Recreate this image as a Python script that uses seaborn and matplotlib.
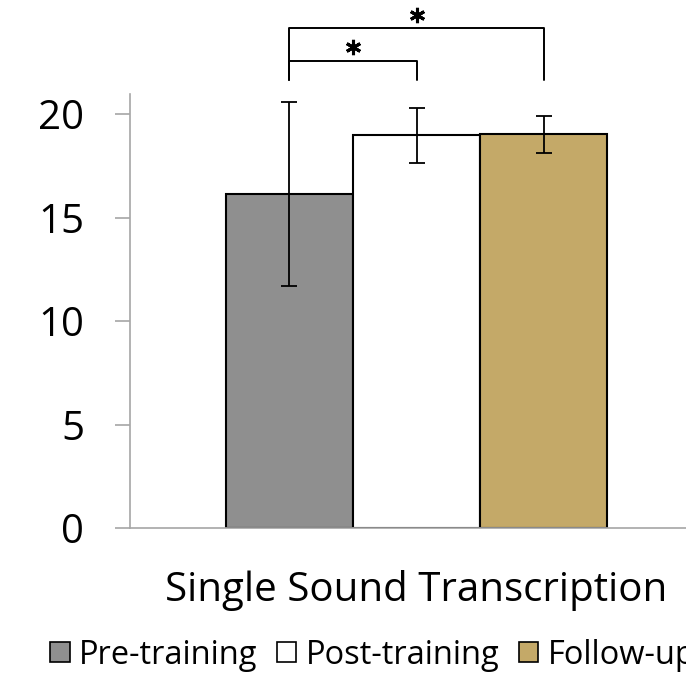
import pandas as pd
import numpy as np
import matplotlib
matplotlib.use("Agg")
import matplotlib.pyplot as plt
import seaborn as sns

task = "Single Sound Transcription"
conditions = ["Pre-training", "Post-training", "Follow-up"]
means = [16.15, 18.97, 19.02]
errors = [4.45, 1.33, 0.90]
colors = ["#8f8f8f", "#ffffff", "#c4a968"]

# significance brackets: (bar a, bar b, bracket height)
comparisons = [(0, 1, 22.56), (0, 2, 24.15)]
bracket_base = 21.64

df = pd.DataFrame({"task": task, "condition": conditions, "score": means})

sns.set_style("white")
plt.rcParams["font.family"] = ["Open Sans", "DejaVu Sans"]
plt.rcParams["text.color"] = "black"
plt.rcParams["xtick.color"] = "black"
plt.rcParams["ytick.color"] = "black"

fig = plt.figure(figsize=(6.86, 6.79), dpi=100)
ax = fig.add_axes([130 / 686, 151 / 679, 573 / 686, 434 / 679])

sns.barplot(data=df, x="task", y="score", hue="condition", hue_order=conditions,
            palette=colors, edgecolor="black", linewidth=1.5, errorbar=None,
            saturation=1, width=0.8, legend=False, ax=ax)

bars = ax.patches[:len(conditions)]
xs = [b.get_x() + b.get_width() / 2 for b in bars]
ax.errorbar(xs, means, yerr=errors, fmt="none", ecolor="black",
            elinewidth=1.3, capsize=5.8, capthick=1.3, zorder=5)

for a, b, h in comparisons:
    ax.plot([xs[a], xs[a], xs[b], xs[b]], [bracket_base, h, h, bracket_base],
            color="black", lw=1.4, clip_on=False)
    ax.plot([(xs[a] + xs[b]) / 2], [h + 0.66], marker=(6, 2, 0), ms=11,
            mew=2.2, color="black", clip_on=False)

ax.set_xlim(-0.6, 0.6)
ax.set_ylim(0, 20.97)
ax.set_yticks([0, 5, 10, 15, 20])
ax.set_xlabel("")
ax.set_ylabel("")
for side in ["top", "right"]:
    ax.spines[side].set_visible(False)
for side in ["left", "bottom"]:
    ax.spines[side].set_color("#a6a6a6")
    ax.spines[side].set_linewidth(1.2)
ax.tick_params(axis="y", direction="out", length=11, width=1.2, color="#a6a6a6",
               labelcolor="black", labelsize=29, pad=22, left=True)
ax.tick_params(axis="x", length=0, labelcolor="black", labelsize=29, pad=30)

handles = [plt.Rectangle((0, 0), 1, 1, facecolor=c, edgecolor="black", lw=1.2)
           for c in colors]
fig.legend(handles, conditions, loc="center left",
           bbox_to_anchor=(50 / 686, 1 - 655 / 679), ncol=3, frameon=False,
           fontsize=23.5, handlelength=0.6, handleheight=0.6, handletextpad=0.28,
           columnspacing=0.6, borderaxespad=0, borderpad=0)

fig.savefig("out.png", dpi=100)
